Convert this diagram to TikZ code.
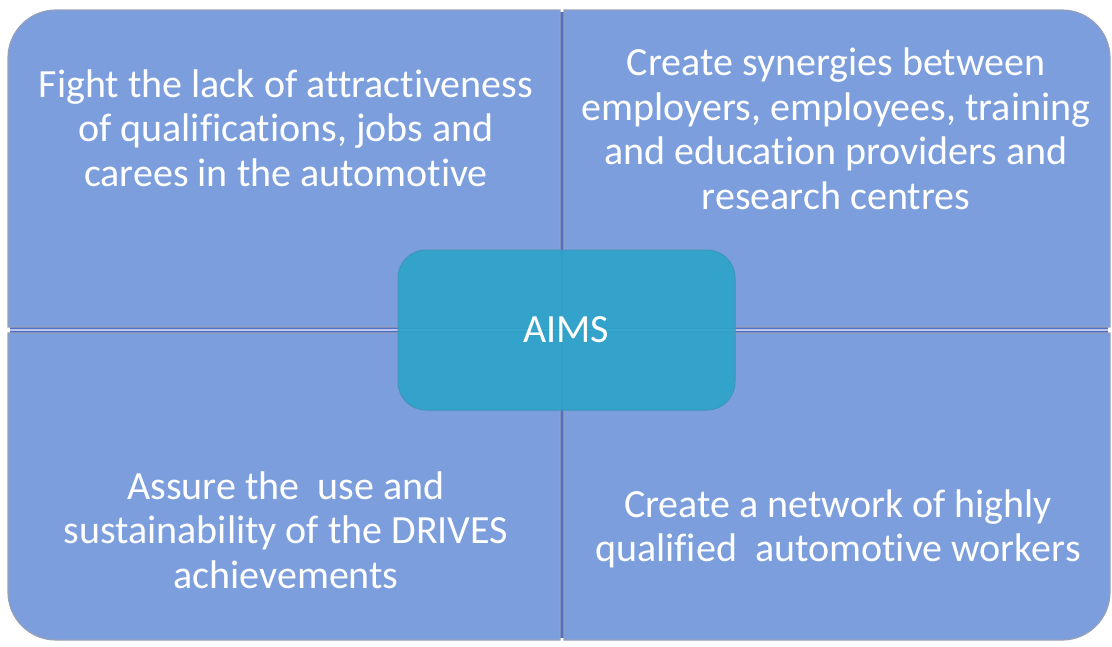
\documentclass[tikz,border=0pt]{standalone}
\usepackage{fontspec}
\setmainfont{Carlito}[Ligatures=NoCommon]
\usepackage{xcolor}
\usepackage{tikz}

\definecolor{quadblue}{RGB}{124,158,221}
\definecolor{quadedge}{RGB}{150,160,185}
\definecolor{gapblue}{RGB}{80,112,200}
\definecolor{aimsteal}{RGB}{44,164,202}
\definecolor{aimsedge}{RGB}{62,150,185}

\tikzset{
  quad/.style={fill=quadblue,draw=quadedge,line width=1.2pt},
  quadtext/.style={inner sep=0pt,outer sep=0pt,align=center,text=white,font=\fontsize{40}{44.5}\selectfont},
  aimsbox/.style={fill=aimsteal,fill opacity=0.9,draw=aimsedge,line width=1pt,rounded corners=28pt}
}

\begin{document}
\begin{tikzpicture}[x=1pt,y=-1pt]
\path[use as bounding box] (0,0) rectangle (1112,646);
\path[fill=white,draw=none] (0,0) rectangle (1112,646);
% dividers behind the quadrants
\path[fill=gapblue] (555,12) rectangle (569,638);
\path[fill=gapblue] (10,323) rectangle (1108,337);
% four quadrants, outer corner rounded
\path[quad] (8,170) [rounded corners=48pt] -- (8,10) -- (284,10) [sharp corners] -- (560,10) -- (560,327) -- (8,327) -- cycle;
\path[quad] (836,10) [rounded corners=48pt] -- (1110,10) -- (1110,170) [sharp corners] -- (1110,327) -- (564,327) -- (564,10) -- cycle;
\path[quad] (8,486) [rounded corners=48pt] -- (8,640) -- (284,640) [sharp corners] -- (560,640) -- (560,333) -- (8,333) -- cycle;
\path[quad] (836,640) [rounded corners=48pt] -- (1110,640) -- (1110,486) [sharp corners] -- (1110,333) -- (564,333) -- (564,640) -- cycle;
% light seam along the horizontal divider
\draw[white,opacity=0.6,line width=2pt] (10,330) -- (1108,330);
% quadrant texts
\node[quadtext] (fight) at (286,128) {Fight the lack of attractiveness\\of qualifications, jobs and\\carees in the automotive};
\node[quadtext] (synergy) at (836,129) {Create synergies between\\employers, employees, training\\and education providers and\\research centres};
\node[quadtext] (assure) at (286,530) {Assure the\ \ use and\\sustainability of the DRIVES\\achievements};
\node[quadtext] (network) at (838,529) {Create a network of highly\\qualified\ \ automotive workers};
% centre box
\path[aimsbox] (398,250) rectangle (735,410);
\node[quadtext] (aims) at (566,330) {AIMS};
\end{tikzpicture}
\end{document}
